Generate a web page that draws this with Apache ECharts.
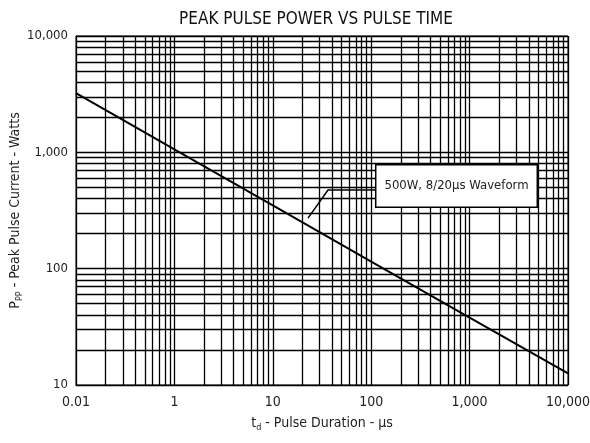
<!DOCTYPE html>
<html>
<head>
<meta charset="utf-8">
<script src="https://cdn.jsdelivr.net/npm/echarts@6/dist/echarts.min.js"></script>
<style>
  html, body { margin: 0; padding: 0; background: #fff; }
  #main { width: 590px; height: 443px; }
</style>
</head>
<body>
<div id="main"></div>
<script>
// pulse duration (us) and peak pulse power (W)
const pulseTime = [0.1, 1, 10, 100, 1000, 10000];
const peakPower = [3230, 1060, 350, 115, 38, 12.6];

// axis labels as printed on the sheet
const xTickLabels = ['0.01', '1', '10', '100', '1,000', '10,000'];
const yTickLabels = ['10', '100', '1,000', '10,000'];

// callout: leader line (x, y) and box centre
const calloutText = '500W, 8/20\u00b5s Waveform';
const calloutLeader = [[117, 474], [36.4, 474], [22.8, 272]];
const calloutBox = [[736, 513]];

const FONT = "'Liberation Sans Narrow', 'Arial Narrow', 'DejaVu Sans Condensed', sans-serif";

// minor log grid lines (2..9 in each decade)
function minorLines(lo, hi, axis) {
  const out = [];
  for (let d = lo; d < hi; d *= 10) {
    for (let k = 2; k <= 9; k++) {
      const o = {};
      o[axis] = d * k;
      out.push(o);
    }
  }
  return out;
}

const chart = echarts.init(document.getElementById('main'), null, { renderer: 'canvas' });

const option = {
  animation: false,
  backgroundColor: '#fff',
  title: {
    text: 'PEAK PULSE POWER VS PULSE TIME',
    left: 311,
    top: 6,
    textAlign: 'center',
    textStyle: { fontFamily: FONT, fontSize: 17, fontWeight: 'normal', color: '#111' }
  },
  grid: {
    left: 76, right: 22, top: 36, bottom: 58,
    outerBoundsMode: 'none',
    containLabel: false,
    show: true, borderColor: '#000', borderWidth: 1
  },
  xAxis: {
    type: 'log',
    min: 0.1,
    max: 10000,
    logBase: 10,
    axisLine: { lineStyle: { color: '#000', width: 1 } },
    axisTick: { show: false },
    splitLine: { show: true, lineStyle: { color: '#000', width: 1.3 } },
    axisLabel: {
      fontFamily: FONT, fontSize: 14, color: '#222', margin: 10,
      formatter: v => xTickLabels[Math.round(Math.log10(v)) + 1]
    },
    name: '{t|t}{s|d}{t| - Pulse Duration - \u00b5s}',
    nameLocation: 'middle',
    nameGap: 30,
    nameTextStyle: {
      rich: {
        t: { fontFamily: FONT, fontSize: 14, color: '#222' },
        s: { fontFamily: FONT, fontSize: 9, color: '#222', verticalAlign: 'bottom', padding: [8, 0, 0, 0] }
      }
    }
  },
  yAxis: {
    type: 'log',
    min: 10,
    max: 10000,
    logBase: 10,
    axisLine: { lineStyle: { color: '#000', width: 1 } },
    axisTick: { show: false },
    splitLine: { show: true, lineStyle: { color: '#000', width: 1.3 } },
    axisLabel: {
      fontFamily: FONT, fontSize: 13, color: '#222', margin: 8,
      formatter: v => yTickLabels[Math.round(Math.log10(v)) - 1]
    },
    name: '{t|P}{s|PP}{t| - Peak Pulse Current - Watts}',
    nameLocation: 'middle',
    nameGap: 52,
    nameMoveOverlap: false,
    nameTextStyle: {
      rich: {
        t: { fontFamily: FONT, fontSize: 14, color: '#222' },
        s: { fontFamily: FONT, fontSize: 9, color: '#222', verticalAlign: 'bottom', padding: [8, 0, 0, 0] }
      }
    }
  },
  series: [
    {
      type: 'line',
      data: pulseTime.map((t, i) => [t, peakPower[i]]),
      showSymbol: false,
      lineStyle: { color: '#000', width: 2 },
      z: 5,
      markLine: {
        silent: true,
        symbol: 'none',
        label: { show: false },
        lineStyle: { color: '#000', width: 1.3, type: 'solid' },
        data: minorLines(0.1, 10000, 'xAxis').concat(minorLines(10, 10000, 'yAxis'))
      }
    },
    {
      type: 'line',
      data: calloutLeader,
      showSymbol: false,
      lineStyle: { color: '#000', width: 1.5 },
      z: 6
    },
    {
      type: 'scatter',
      data: calloutBox,
      symbolSize: 0,
      itemStyle: { opacity: 1 },
      z: 7,
      label: {
        show: true,
        position: 'inside',
        formatter: calloutText,
        fontFamily: FONT,
        fontSize: 13,
        color: '#222',
        backgroundColor: '#fff',
        borderColor: '#000',
        borderWidth: 1.5,
        padding: [14, 8, 14, 8]
      }
    }
  ]
};

chart.setOption(option);
</script>
</body>
</html>
